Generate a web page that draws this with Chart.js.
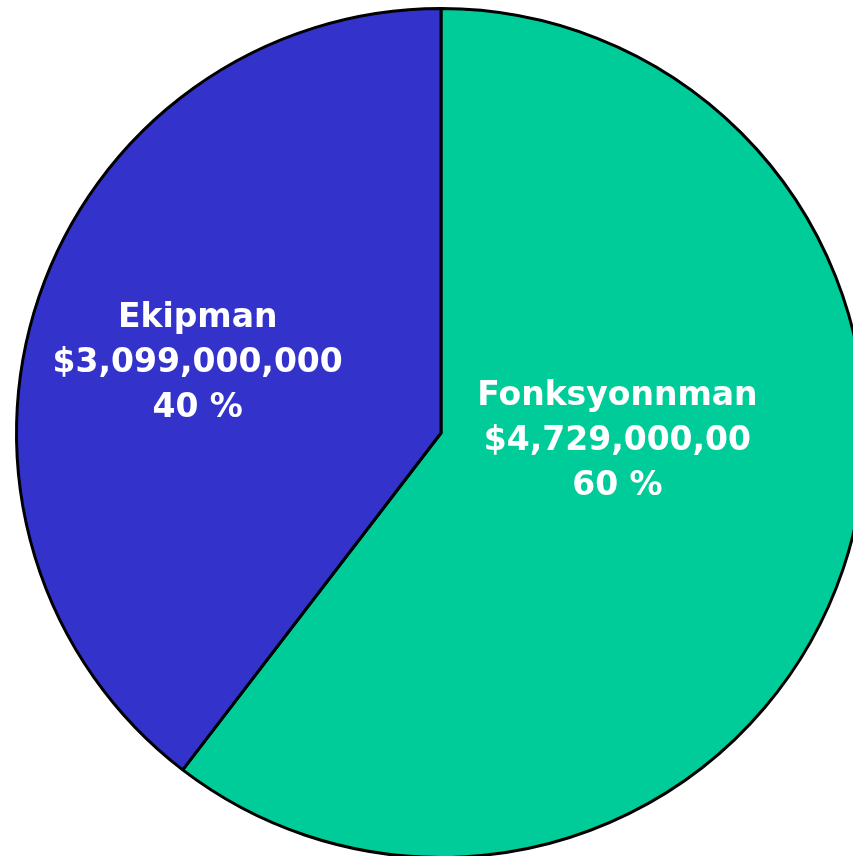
<!DOCTYPE html>
<html>
<head>
<meta charset="utf-8">
<script src="https://cdn.jsdelivr.net/npm/chart.js@4.4.1/dist/chart.umd.min.js"></script>
<style>
html,body{margin:0;padding:0;width:853px;height:856px;overflow:hidden;background:#fff;}
#wrap{position:absolute;left:0;top:0;width:882px;height:866px;}
</style>
</head>
<body>
<div id="wrap"><canvas id="c"></canvas></div>
<script>
const categories = ["Fonksyonnman", "Ekipman"];
const values = [4729000000, 3099000000];
const amountLabels = ["$4,729,000,00", "$3,099,000,000"];
const percentLabels = ["60 %", "40 %"];
const colors = ["#00CC99", "#3333CC"];

// label placement: fraction of radius and angular offset (degrees) from the slice mid-angle
const labelPlacement = [{r:0.416, da:-16.2}, {r:0.597, da:-2.5}];

const labelPlugin = {
  id: 'sliceLabels',
  afterDatasetsDraw(chart) {
    const ctx = chart.ctx;
    const meta = chart.getDatasetMeta(0);
    ctx.save();
    ctx.fillStyle = '#ffffff';
    ctx.font = 'bold 33px "DejaVu Sans"';
    ctx.textAlign = 'center';
    ctx.textBaseline = 'middle';
    meta.data.forEach((arc, i) => {
      const p = arc.getProps(['x','y','startAngle','endAngle','outerRadius'], true);
      const mid = (p.startAngle + p.endAngle) / 2 + labelPlacement[i].da * Math.PI / 180;
      const rr = p.outerRadius * labelPlacement[i].r;
      const cx = p.x + Math.cos(mid) * rr;
      const cy = p.y + Math.sin(mid) * rr;
      const lines = [categories[i], amountLabels[i], percentLabels[i]];
      const lh = 45;
      lines.forEach((t, k) => ctx.fillText(t, cx, cy + 1 + (k - 1) * lh));
    });
    ctx.restore();
  }
};

new Chart(document.getElementById('c'), {
  type: 'pie',
  data: {
    labels: categories,
    datasets: [{
      data: values,
      backgroundColor: colors,
      borderColor: '#000000',
      borderWidth: 3,
      borderAlign: 'center'
    }]
  },
  options: {
    responsive: true,
    maintainAspectRatio: false,
    animation: false,
    layout: {padding: {left: 15, right: 15, top: 7, bottom: 7}},
    plugins: {legend: {display: false}, tooltip: {enabled: false}}
  },
  plugins: [labelPlugin]
});
</script>
</body>
</html>
